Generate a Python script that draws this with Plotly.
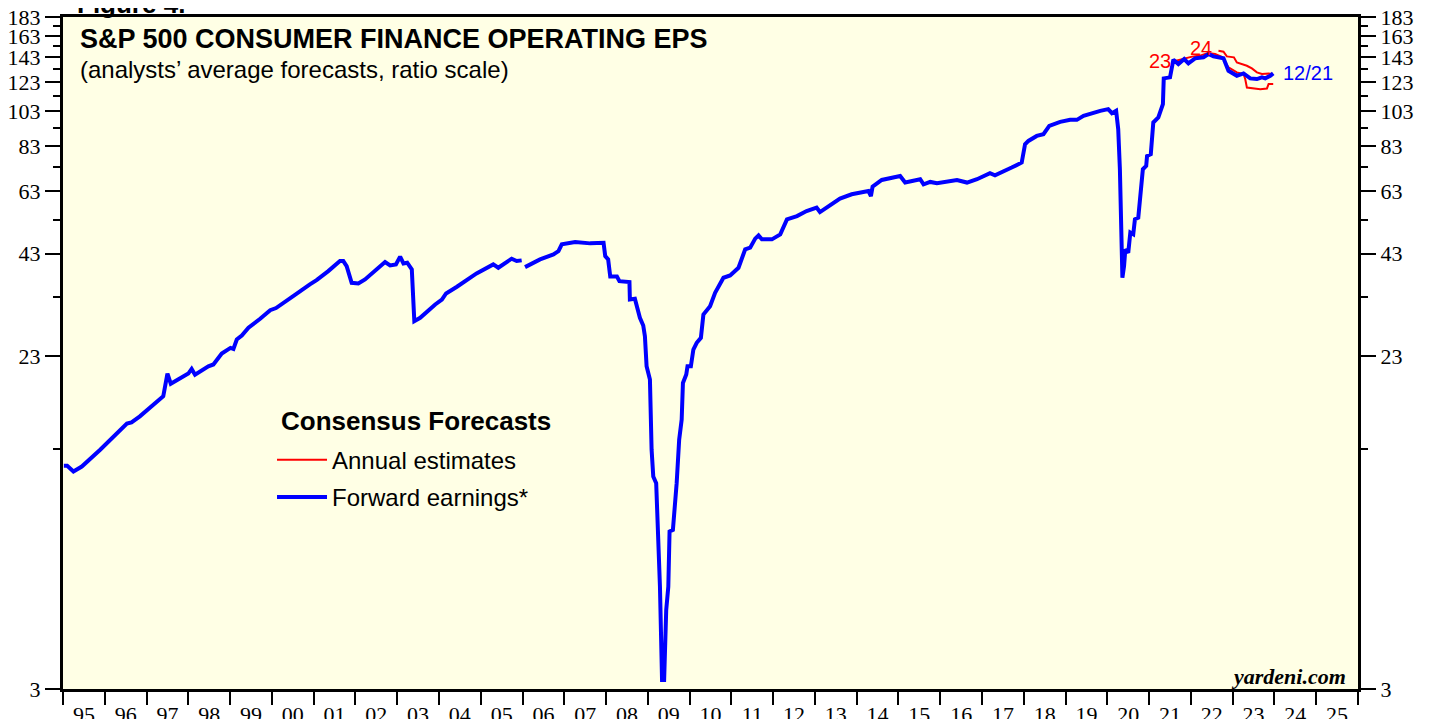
import math
import plotly.graph_objects as go

# ---------------- data ----------------
fwd_year = [1995.02, 1995.10, 1995.25, 1995.45, 1995.89, 1996.32, 1996.53, 1996.64, 1996.84, 1997.40,
            1997.50, 1997.58, 1997.88, 1998.00, 1998.08, 1998.16, 1998.48, 1998.60, 1998.80, 1999.01,
            1999.08, 1999.16, 1999.28, 1999.44, 1999.72, 1999.96, 2000.10, 2000.27, 2000.51, 2000.91,
            2001.07, 2001.35, 2001.63, 2001.71, 2001.79, 2001.91, 2002.07, 2002.23, 2002.43, 2002.71,
            2002.83, 2002.97, 2003.07, 2003.15, 2003.24, 2003.35, 2003.41, 2003.55, 2003.91, 2004.07,
            2004.17, 2004.43, 2004.90, 2005.06, 2005.30, 2005.42, 2005.74, 2005.86, 2005.98, 2006.02,
            2006.06, 2006.42, 2006.74, 2006.86, 2006.94, 2007.26, 2007.62, 2007.94, 2007.98, 2008.05,
            2008.10, 2008.26, 2008.32, 2008.56, 2008.57, 2008.69, 2008.81, 2008.89, 2008.93, 2008.97,
            2009.05, 2009.09, 2009.13, 2009.20, 2009.29, 2009.33, 2009.34, 2009.39, 2009.41, 2009.44,
            2009.49, 2009.52, 2009.60, 2009.65, 2009.69, 2009.75, 2009.81, 2009.84, 2009.92, 2009.95,
            2010.03, 2010.09, 2010.17, 2010.27, 2010.33, 2010.49, 2010.61, 2010.81, 2010.97, 2011.17,
            2011.33, 2011.45, 2011.57, 2011.65, 2011.73, 2011.97, 2012.17, 2012.33, 2012.57, 2012.80,
            2013.04, 2013.12, 2013.36, 2013.60, 2013.88, 2014.28, 2014.34, 2014.38, 2014.60, 2015.04,
            2015.16, 2015.52, 2015.60, 2015.76, 2015.92, 2016.40, 2016.64, 2016.88, 2017.19, 2017.31,
            2017.71, 2017.87, 2017.95, 2018.03, 2018.11, 2018.31, 2018.47, 2018.61, 2018.87, 2019.11,
            2019.27, 2019.43, 2019.67, 2019.83, 2020.02, 2020.11, 2020.21, 2020.26, 2020.30, 2020.33,
            2020.36, 2020.40, 2020.43, 2020.50, 2020.55, 2020.62, 2020.66, 2020.74, 2020.78, 2020.85,
            2020.93, 2020.95, 2021.04, 2021.10, 2021.22, 2021.33, 2021.35, 2021.50, 2021.58, 2021.70,
            2021.84, 2021.94, 2022.10, 2022.30, 2022.42, 2022.54, 2022.78, 2022.90, 2023.10, 2023.26,
            2023.42, 2023.58, 2023.70, 2023.78, 2023.90, 2023.97]
fwd_eps = [11.75, 11.75, 11.35, 11.7, 12.97, 14.37, 15.21, 15.33, 15.9, 17.98,
           20.66, 19.42, 20.4, 20.66, 21.26, 20.52, 21.6, 21.84, 23.35, 24.18,
           24.03, 25.44, 26.06, 27.34, 28.9, 30.45, 30.84, 31.86, 33.16, 35.65,
           36.6, 38.67, 41.12, 41.12, 39.87, 36.0, 35.85, 36.75, 38.3, 40.86,
           40.04, 40.28, 42.24, 40.53, 40.7, 39.07, 28.46, 29.06, 31.53, 32.5,
           33.73, 35.14, 38.12, 38.9, 40.28, 39.47, 41.72, 41.12, 41.29, None,
           39.62, 41.54, 42.84, 43.7, 45.53, 46.19, 45.82, 45.96, 42.38, 41.54,
           37.42, 37.42, 36.37, 36.15, 32.5, 32.64, 29.06, 27.73, 25.96, 21.6,
           19.91, 12.97, 11.0, 10.57, 5.61, 3.88, 3.17, 3.17, 3.97, 4.87,
           5.61, 7.86, 7.94, 9.15, 10.57, 13.79, 15.59, 19.5, 20.53, 21.6,
           21.6, 23.93, 24.94, 25.71, 29.65, 31.2, 33.87, 37.13, 37.66, 39.47,
           44.16, 44.63, 47.16, 48.12, 46.96, 46.96, 48.42, 53.07, 54.16, 55.85,
           57.03, 55.5, 57.83, 60.26, 61.86, 63.13, 61.2, 64.86, 67.53, 69.2,
           66.47, 67.82, 65.77, 66.72, 66.17, 67.53, 66.47, 67.82, 70.37, 69.5,
           72.85, 74.35, 75.13, 84.04, 85.75, 88.42, 89.35, 94.03, 96.35, 97.54,
           97.54, 99.96, 102.06, 103.07, 104.15, 101.6, 103.07, 92.13, 72.1, 49.92,
           37.13, 39.87, 44.16, 43.28, 48.93, 48.42, 53.07, 53.64, 61.2, 72.1,
           73.57, 78.2, 79.04, 96.0, 98.98, 107.4, 125.7, 126.5, 140.9, 137.2,
           141.5, 137.8, 142.1, 143.0, 145.9, 143.8, 142.1, 131.7, 127.7, 129.6,
           125.7, 125.2, 126.5, 125.7, 127.7, 129.6]

est23_year = [2021.62, 2021.79, 2022.03, 2022.22, 2022.41, 2022.58, 2022.75, 2022.89,
              2023.10, 2023.26, 2023.30, 2023.34, 2023.66, 2023.82, 2023.86, 2023.97]
est23_eps = [139.8, 141.5, 143.6, 144.5, 146.8, 145.9, 143.2, 134.7,
             130.4, 129.1, 125.2, 118.9, 117.7, 118.2, 121.4, 121.4]

est24_year = [2022.66, 2022.78, 2022.86, 2023.03, 2023.10, 2023.34, 2023.46, 2023.58,
              2023.70, 2023.86, 2023.96]
est24_eps = [148.9, 148.0, 143.8, 143.0, 138.6, 135.8, 133.6, 130.4,
             129.1, 129.6, 129.1]

y_ticks = [3, 23, 43, 63, 83, 103, 123, 143, 163, 183]
y_minor_ticks = [13, 33, 53, 73, 93, 113, 133, 153, 173]
year_start, year_end = 1995, 2026
year_labels = ["95", "96", "97", "98", "99", "00", "01", "02", "03", "04", "05", "06", "07",
               "08", "09", "10", "11", "12", "13", "14", "15", "16", "17", "18", "19", "20",
               "21", "22", "23", "24", "25"]

assert len(fwd_year) == len(fwd_eps)
assert len(est23_year) == len(est23_eps)
assert len(est24_year) == len(est24_eps)

# ---------------- figure ----------------
SANS = "Liberation Sans, Arial, sans-serif"
SERIF = "Liberation Serif, Times New Roman, serif"
BLUE = "#0000FF"
RED = "#FF0000"

fig = go.Figure()
fig.add_trace(go.Scatter(x=est23_year, y=est23_eps, mode="lines",
                         line=dict(color=RED, width=2), name="Annual estimates",
                         legendgroup="est"))
fig.add_trace(go.Scatter(x=est24_year, y=est24_eps, mode="lines",
                         line=dict(color=RED, width=2), name="Annual estimates 2024",
                         legendgroup="est", showlegend=False))
fig.add_trace(go.Scatter(x=fwd_year, y=fwd_eps, mode="lines", connectgaps=False,
                         line=dict(color=BLUE, width=4), name="Forward earnings*",
                         legendgroup="fwd"))
# invisible helper trace so the right-hand axis is drawn
fig.add_trace(go.Scatter(x=[fwd_year[0]], y=[fwd_eps[0]], yaxis="y2", mode="markers",
                         marker=dict(opacity=0), showlegend=False, hoverinfo="skip"))

yrange = [math.log10(y_ticks[0]), math.log10(y_ticks[-1])]
ytick_text = [str(v) for v in y_ticks]

def y_axis(side):
    return dict(
        type="log", range=yrange, side=side, automargin=False,
        tickmode="array", tickvals=y_ticks, ticktext=ytick_text,
        ticks="outside", ticklen=15, tickwidth=2, tickcolor="black",
        minor=dict(tickmode="array", tickvals=y_minor_ticks, ticks="outside",
                   ticklen=7, tickwidth=2, tickcolor="black", showgrid=False),
        showgrid=False, zeroline=False,
        showline=True, linecolor="black", linewidth=3, mirror=True,
        tickfont=dict(family=SERIF, size=22, color="black"),
        ticklabeloverflow="allow",
        fixedrange=True,
    )

yaxis2 = y_axis("right")
yaxis2["overlaying"] = "y"

# the page body adds an 8px offset, so the figure is sized to fit inside the window
fig.update_layout(
    width=1421, height=711,
    margin=dict(l=55, r=71, t=9, b=30, autoexpand=False),
    paper_bgcolor="white", plot_bgcolor="#FFFFE5",
    showlegend=True,
    legend=dict(x=0.1614, y=0.374, xanchor="left", yanchor="top",
                bgcolor="rgba(0,0,0,0)", borderwidth=0,
                font=dict(family=SANS, size=24, color="black"),
                itemwidth=50,
                traceorder="grouped", tracegroupgap=3),
    xaxis=dict(
        range=[year_start, year_end], automargin=False,
        tickmode="array",
        tickvals=[year_start + i + 0.5 for i in range(len(year_labels))],
        ticktext=year_labels,
        ticks="outside", ticklen=4, tickcolor="rgba(0,0,0,0)",
        minor=dict(tickmode="array", tickvals=list(range(year_start, year_end + 1)),
                   ticks="outside", ticklen=13, tickwidth=2, tickcolor="black",
                   showgrid=False),
        showgrid=False, zeroline=False,
        showline=True, linecolor="black", linewidth=3, mirror=True,
        tickfont=dict(family=SERIF, size=22, color="black"),
        ticklabeloverflow="allow",
        fixedrange=True,
    ),
    yaxis=y_axis("left"),
    yaxis2=yaxis2,
)

annotations = [
    dict(text="<b>S&P 500 CONSUMER FINANCE OPERATING EPS</b>", xref="paper", yref="paper",
         x=0.0116, y=0.9673, xanchor="left", yanchor="middle", showarrow=False,
         font=dict(family=SANS, size=27, color="black")),
    dict(text="(analysts’ average forecasts, ratio scale)", xref="paper", yref="paper",
         x=0.0116, y=0.9226, xanchor="left", yanchor="middle", showarrow=False,
         font=dict(family=SANS, size=24, color="black")),
    dict(text="<b>Consensus Forecasts</b>", xref="paper", yref="paper",
         x=0.1668, y=0.3988, xanchor="left", yanchor="middle", showarrow=False,
         font=dict(family=SANS, size=26, color="black")),
    dict(text="<b><i>yardeni.com</i></b>", xref="paper", yref="paper",
         x=0.9923, y=0.0193, xanchor="right", yanchor="middle", showarrow=False,
         font=dict(family=SERIF, size=22, color="black")),
    dict(text="<b>Figure 4.</b>", xref="paper", yref="paper",
         x=0.0093, y=1.0193, xanchor="left", yanchor="middle", showarrow=False,
         font=dict(family=SANS, size=26, color="black")),
    dict(text="23", x=est23_year[0], y=math.log10(est23_eps[0]), xref="x", yref="y",
         xanchor="right", yanchor="middle", xshift=-2, showarrow=False,
         font=dict(family=SANS, size=20, color=RED)),
    dict(text="24", x=est24_year[0], y=math.log10(est24_eps[0]), xref="x", yref="y",
         xanchor="right", yanchor="middle", xshift=-4, yshift=3, showarrow=False,
         font=dict(family=SANS, size=20, color=RED)),
    dict(text="12/21", x=fwd_year[-1], y=math.log10(fwd_eps[-1]), xref="x", yref="y",
         xanchor="left", yanchor="middle", xshift=8, showarrow=False,
         font=dict(family=SANS, size=20, color=BLUE)),
]
fig.update_layout(annotations=annotations)

fig.write_html("out.html")
